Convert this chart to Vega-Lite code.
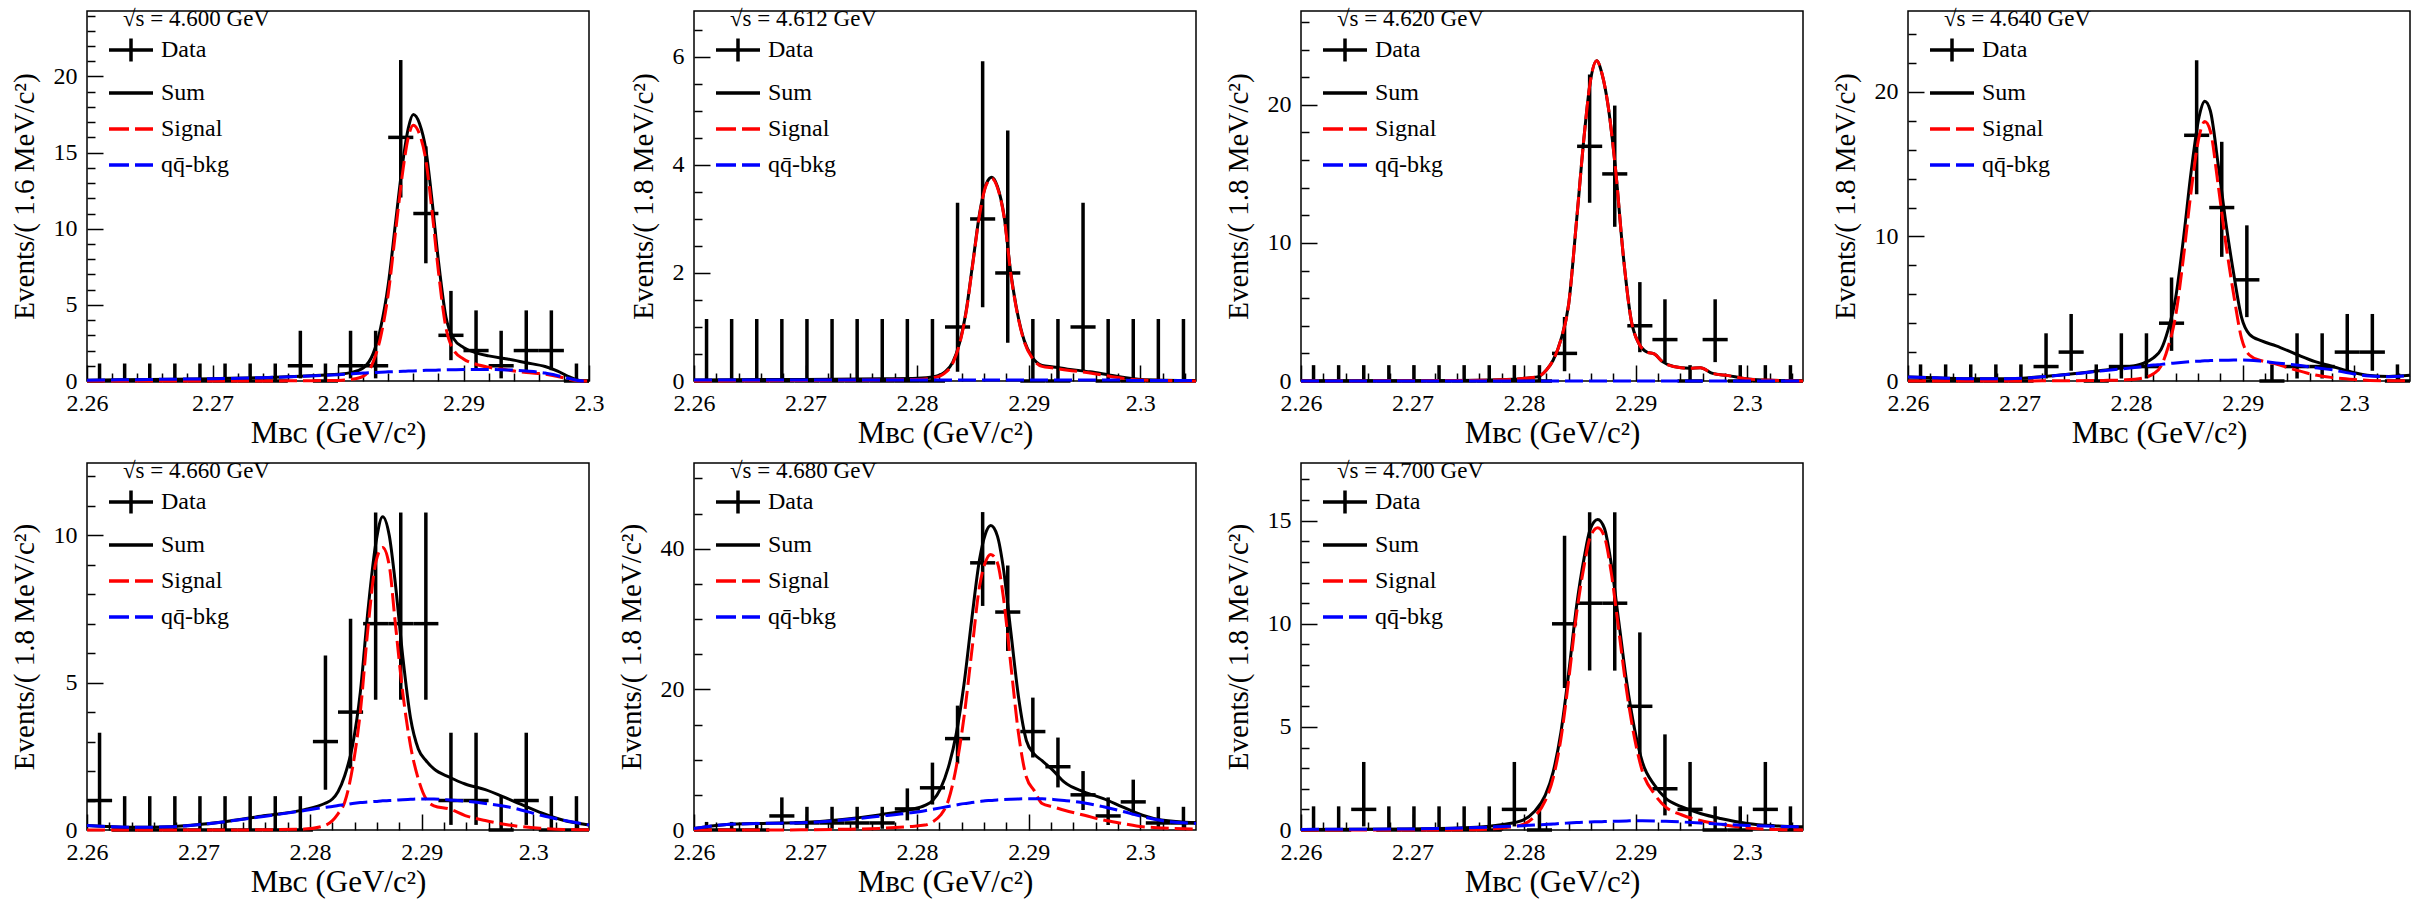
{
  "$schema": "https://vega.github.io/schema/vega-lite/v6.json",
  "background": "white",
  "padding": {"left": 9, "top": 7, "right": 5, "bottom": 5},
  "columns": 4,
  "spacing": {"row": 82, "column": 105},
  "bounds": "flush",
  "resolve": {"scale": {"color": "independent"}, "legend": {"color": "independent"}},
  "datasets": {
    "bins": [
      {"E":"4.600","x":2.261,"xlo":2.260,"xhi":2.262,"n":0,"lo":0,"hi":1.148},
      {"E":"4.600","x":2.263,"xlo":2.262,"xhi":2.264,"n":0,"lo":0,"hi":1.148},
      {"E":"4.600","x":2.265,"xlo":2.264,"xhi":2.266,"n":0,"lo":0,"hi":1.148},
      {"E":"4.600","x":2.267,"xlo":2.266,"xhi":2.268,"n":0,"lo":0,"hi":1.148},
      {"E":"4.600","x":2.269,"xlo":2.268,"xhi":2.270,"n":0,"lo":0,"hi":1.148},
      {"E":"4.600","x":2.271,"xlo":2.270,"xhi":2.272,"n":0,"lo":0,"hi":1.148},
      {"E":"4.600","x":2.273,"xlo":2.272,"xhi":2.274,"n":0,"lo":0,"hi":1.148},
      {"E":"4.600","x":2.275,"xlo":2.274,"xhi":2.276,"n":0,"lo":0,"hi":1.148},
      {"E":"4.600","x":2.277,"xlo":2.276,"xhi":2.278,"n":1,"lo":0.173,"hi":3.3},
      {"E":"4.600","x":2.279,"xlo":2.278,"xhi":2.280,"n":0,"lo":0,"hi":1.148},
      {"E":"4.600","x":2.281,"xlo":2.280,"xhi":2.282,"n":1,"lo":0.173,"hi":3.3},
      {"E":"4.600","x":2.283,"xlo":2.282,"xhi":2.284,"n":1,"lo":0.173,"hi":3.3},
      {"E":"4.600","x":2.285,"xlo":2.284,"xhi":2.286,"n":16,"lo":12.05,"hi":21.08},
      {"E":"4.600","x":2.287,"xlo":2.286,"xhi":2.288,"n":11,"lo":7.73,"hi":15.41},
      {"E":"4.600","x":2.289,"xlo":2.288,"xhi":2.290,"n":3,"lo":1.367,"hi":5.918},
      {"E":"4.600","x":2.291,"xlo":2.290,"xhi":2.292,"n":2,"lo":0.708,"hi":4.638},
      {"E":"4.600","x":2.293,"xlo":2.292,"xhi":2.294,"n":1,"lo":0.173,"hi":3.3},
      {"E":"4.600","x":2.295,"xlo":2.294,"xhi":2.296,"n":2,"lo":0.708,"hi":4.638},
      {"E":"4.600","x":2.297,"xlo":2.296,"xhi":2.298,"n":2,"lo":0.708,"hi":4.638},
      {"E":"4.600","x":2.299,"xlo":2.298,"xhi":2.300,"n":0,"lo":0,"hi":1.148},

      {"E":"4.612","x":2.261125,"xlo":2.26,"xhi":2.26225,"n":0,"lo":0,"hi":1.148},
      {"E":"4.612","x":2.263375,"xlo":2.26225,"xhi":2.2645,"n":0,"lo":0,"hi":1.148},
      {"E":"4.612","x":2.265625,"xlo":2.2645,"xhi":2.26675,"n":0,"lo":0,"hi":1.148},
      {"E":"4.612","x":2.267875,"xlo":2.26675,"xhi":2.269,"n":0,"lo":0,"hi":1.148},
      {"E":"4.612","x":2.270125,"xlo":2.269,"xhi":2.27125,"n":0,"lo":0,"hi":1.148},
      {"E":"4.612","x":2.272375,"xlo":2.27125,"xhi":2.2735,"n":0,"lo":0,"hi":1.148},
      {"E":"4.612","x":2.274625,"xlo":2.2735,"xhi":2.27575,"n":0,"lo":0,"hi":1.148},
      {"E":"4.612","x":2.276875,"xlo":2.27575,"xhi":2.278,"n":0,"lo":0,"hi":1.148},
      {"E":"4.612","x":2.279125,"xlo":2.278,"xhi":2.28025,"n":0,"lo":0,"hi":1.148},
      {"E":"4.612","x":2.281375,"xlo":2.28025,"xhi":2.2825,"n":0,"lo":0,"hi":1.148},
      {"E":"4.612","x":2.283625,"xlo":2.2825,"xhi":2.28475,"n":1,"lo":0.173,"hi":3.3},
      {"E":"4.612","x":2.285875,"xlo":2.28475,"xhi":2.287,"n":3,"lo":1.367,"hi":5.918},
      {"E":"4.612","x":2.288125,"xlo":2.287,"xhi":2.28925,"n":2,"lo":0.708,"hi":4.638},
      {"E":"4.612","x":2.290375,"xlo":2.28925,"xhi":2.2915,"n":0,"lo":0,"hi":1.148},
      {"E":"4.612","x":2.292625,"xlo":2.2915,"xhi":2.29375,"n":0,"lo":0,"hi":1.148},
      {"E":"4.612","x":2.294875,"xlo":2.29375,"xhi":2.296,"n":1,"lo":0.173,"hi":3.3},
      {"E":"4.612","x":2.297125,"xlo":2.296,"xhi":2.29825,"n":0,"lo":0,"hi":1.148},
      {"E":"4.612","x":2.299375,"xlo":2.29825,"xhi":2.3005,"n":0,"lo":0,"hi":1.148},
      {"E":"4.612","x":2.301625,"xlo":2.3005,"xhi":2.30275,"n":0,"lo":0,"hi":1.148},
      {"E":"4.612","x":2.303875,"xlo":2.30275,"xhi":2.305,"n":0,"lo":0,"hi":1.148},

      {"E":"4.620","x":2.261125,"xlo":2.26,"xhi":2.26225,"n":0,"lo":0,"hi":1.148},
      {"E":"4.620","x":2.263375,"xlo":2.26225,"xhi":2.2645,"n":0,"lo":0,"hi":1.148},
      {"E":"4.620","x":2.265625,"xlo":2.2645,"xhi":2.26675,"n":0,"lo":0,"hi":1.148},
      {"E":"4.620","x":2.267875,"xlo":2.26675,"xhi":2.269,"n":0,"lo":0,"hi":1.148},
      {"E":"4.620","x":2.270125,"xlo":2.269,"xhi":2.27125,"n":0,"lo":0,"hi":1.148},
      {"E":"4.620","x":2.272375,"xlo":2.27125,"xhi":2.2735,"n":0,"lo":0,"hi":1.148},
      {"E":"4.620","x":2.274625,"xlo":2.2735,"xhi":2.27575,"n":0,"lo":0,"hi":1.148},
      {"E":"4.620","x":2.276875,"xlo":2.27575,"xhi":2.278,"n":0,"lo":0,"hi":1.148},
      {"E":"4.620","x":2.279125,"xlo":2.278,"xhi":2.28025,"n":0,"lo":0,"hi":1.148},
      {"E":"4.620","x":2.281375,"xlo":2.28025,"xhi":2.2825,"n":0,"lo":0,"hi":1.148},
      {"E":"4.620","x":2.283625,"xlo":2.2825,"xhi":2.28475,"n":2,"lo":0.708,"hi":4.638},
      {"E":"4.620","x":2.285875,"xlo":2.28475,"xhi":2.287,"n":17,"lo":12.92,"hi":22.2},
      {"E":"4.620","x":2.288125,"xlo":2.287,"xhi":2.28925,"n":15,"lo":11.17,"hi":19.95},
      {"E":"4.620","x":2.290375,"xlo":2.28925,"xhi":2.2915,"n":4,"lo":2.086,"hi":7.163},
      {"E":"4.620","x":2.292625,"xlo":2.2915,"xhi":2.29375,"n":3,"lo":1.367,"hi":5.918},
      {"E":"4.620","x":2.294875,"xlo":2.29375,"xhi":2.296,"n":0,"lo":0,"hi":1.148},
      {"E":"4.620","x":2.297125,"xlo":2.296,"xhi":2.29825,"n":3,"lo":1.367,"hi":5.918},
      {"E":"4.620","x":2.299375,"xlo":2.29825,"xhi":2.3005,"n":0,"lo":0,"hi":1.148},
      {"E":"4.620","x":2.301625,"xlo":2.3005,"xhi":2.30275,"n":0,"lo":0,"hi":1.148},
      {"E":"4.620","x":2.303875,"xlo":2.30275,"xhi":2.305,"n":0,"lo":0,"hi":1.148},

      {"E":"4.640","x":2.261125,"xlo":2.26,"xhi":2.26225,"n":0,"lo":0,"hi":1.148},
      {"E":"4.640","x":2.263375,"xlo":2.26225,"xhi":2.2645,"n":0,"lo":0,"hi":1.148},
      {"E":"4.640","x":2.265625,"xlo":2.2645,"xhi":2.26675,"n":0,"lo":0,"hi":1.148},
      {"E":"4.640","x":2.267875,"xlo":2.26675,"xhi":2.269,"n":0,"lo":0,"hi":1.148},
      {"E":"4.640","x":2.270125,"xlo":2.269,"xhi":2.27125,"n":0,"lo":0,"hi":1.148},
      {"E":"4.640","x":2.272375,"xlo":2.27125,"xhi":2.2735,"n":1,"lo":0.173,"hi":3.3},
      {"E":"4.640","x":2.274625,"xlo":2.2735,"xhi":2.27575,"n":2,"lo":0.708,"hi":4.638},
      {"E":"4.640","x":2.276875,"xlo":2.27575,"xhi":2.278,"n":0,"lo":0,"hi":1.148},
      {"E":"4.640","x":2.279125,"xlo":2.278,"xhi":2.28025,"n":1,"lo":0.173,"hi":3.3},
      {"E":"4.640","x":2.281375,"xlo":2.28025,"xhi":2.2825,"n":1,"lo":0.173,"hi":3.3},
      {"E":"4.640","x":2.283625,"xlo":2.2825,"xhi":2.28475,"n":4,"lo":2.086,"hi":7.163},
      {"E":"4.640","x":2.285875,"xlo":2.28475,"xhi":2.287,"n":17,"lo":12.92,"hi":22.2},
      {"E":"4.640","x":2.288125,"xlo":2.287,"xhi":2.28925,"n":12,"lo":8.59,"hi":16.55},
      {"E":"4.640","x":2.290375,"xlo":2.28925,"xhi":2.2915,"n":7,"lo":4.419,"hi":10.77},
      {"E":"4.640","x":2.292625,"xlo":2.2915,"xhi":2.29375,"n":0,"lo":0,"hi":1.148},
      {"E":"4.640","x":2.294875,"xlo":2.29375,"xhi":2.296,"n":1,"lo":0.173,"hi":3.3},
      {"E":"4.640","x":2.297125,"xlo":2.296,"xhi":2.29825,"n":1,"lo":0.173,"hi":3.3},
      {"E":"4.640","x":2.299375,"xlo":2.29825,"xhi":2.3005,"n":2,"lo":0.708,"hi":4.638},
      {"E":"4.640","x":2.301625,"xlo":2.3005,"xhi":2.30275,"n":2,"lo":0.708,"hi":4.638},
      {"E":"4.640","x":2.303875,"xlo":2.30275,"xhi":2.305,"n":0,"lo":0,"hi":1.148},

      {"E":"4.660","x":2.261125,"xlo":2.26,"xhi":2.26225,"n":1,"lo":0.173,"hi":3.3},
      {"E":"4.660","x":2.263375,"xlo":2.26225,"xhi":2.2645,"n":0,"lo":0,"hi":1.148},
      {"E":"4.660","x":2.265625,"xlo":2.2645,"xhi":2.26675,"n":0,"lo":0,"hi":1.148},
      {"E":"4.660","x":2.267875,"xlo":2.26675,"xhi":2.269,"n":0,"lo":0,"hi":1.148},
      {"E":"4.660","x":2.270125,"xlo":2.269,"xhi":2.27125,"n":0,"lo":0,"hi":1.148},
      {"E":"4.660","x":2.272375,"xlo":2.27125,"xhi":2.2735,"n":0,"lo":0,"hi":1.148},
      {"E":"4.660","x":2.274625,"xlo":2.2735,"xhi":2.27575,"n":0,"lo":0,"hi":1.148},
      {"E":"4.660","x":2.276875,"xlo":2.27575,"xhi":2.278,"n":0,"lo":0,"hi":1.148},
      {"E":"4.660","x":2.279125,"xlo":2.278,"xhi":2.28025,"n":0,"lo":0,"hi":1.148},
      {"E":"4.660","x":2.281375,"xlo":2.28025,"xhi":2.2825,"n":3,"lo":1.367,"hi":5.918},
      {"E":"4.660","x":2.283625,"xlo":2.2825,"xhi":2.28475,"n":4,"lo":2.086,"hi":7.163},
      {"E":"4.660","x":2.285875,"xlo":2.28475,"xhi":2.287,"n":7,"lo":4.419,"hi":10.77},
      {"E":"4.660","x":2.288125,"xlo":2.287,"xhi":2.28925,"n":7,"lo":4.419,"hi":10.77},
      {"E":"4.660","x":2.290375,"xlo":2.28925,"xhi":2.2915,"n":7,"lo":4.419,"hi":10.77},
      {"E":"4.660","x":2.292625,"xlo":2.2915,"xhi":2.29375,"n":1,"lo":0.173,"hi":3.3},
      {"E":"4.660","x":2.294875,"xlo":2.29375,"xhi":2.296,"n":1,"lo":0.173,"hi":3.3},
      {"E":"4.660","x":2.297125,"xlo":2.296,"xhi":2.29825,"n":0,"lo":0,"hi":1.148},
      {"E":"4.660","x":2.299375,"xlo":2.29825,"xhi":2.3005,"n":1,"lo":0.173,"hi":3.3},
      {"E":"4.660","x":2.301625,"xlo":2.3005,"xhi":2.30275,"n":0,"lo":0,"hi":1.148},
      {"E":"4.660","x":2.303875,"xlo":2.30275,"xhi":2.305,"n":0,"lo":0,"hi":1.148},

      {"E":"4.680","x":2.261125,"xlo":2.26,"xhi":2.26225,"n":0,"lo":0,"hi":1.148},
      {"E":"4.680","x":2.263375,"xlo":2.26225,"xhi":2.2645,"n":0,"lo":0,"hi":1.148},
      {"E":"4.680","x":2.265625,"xlo":2.2645,"xhi":2.26675,"n":0,"lo":0,"hi":1.148},
      {"E":"4.680","x":2.267875,"xlo":2.26675,"xhi":2.269,"n":2,"lo":0.708,"hi":4.638},
      {"E":"4.680","x":2.270125,"xlo":2.269,"xhi":2.27125,"n":1,"lo":0.173,"hi":3.3},
      {"E":"4.680","x":2.272375,"xlo":2.27125,"xhi":2.2735,"n":1,"lo":0.173,"hi":3.3},
      {"E":"4.680","x":2.274625,"xlo":2.2735,"xhi":2.27575,"n":1,"lo":0.173,"hi":3.3},
      {"E":"4.680","x":2.276875,"xlo":2.27575,"xhi":2.278,"n":1,"lo":0.173,"hi":3.3},
      {"E":"4.680","x":2.279125,"xlo":2.278,"xhi":2.28025,"n":3,"lo":1.367,"hi":5.918},
      {"E":"4.680","x":2.281375,"xlo":2.28025,"xhi":2.2825,"n":6,"lo":3.62,"hi":9.584},
      {"E":"4.680","x":2.283625,"xlo":2.2825,"xhi":2.28475,"n":13,"lo":9.45,"hi":17.69},
      {"E":"4.680","x":2.285875,"xlo":2.28475,"xhi":2.287,"n":38,"lo":31.87,"hi":45.22},
      {"E":"4.680","x":2.288125,"xlo":2.287,"xhi":2.28925,"n":31,"lo":25.47,"hi":37.62},
      {"E":"4.680","x":2.290375,"xlo":2.28925,"xhi":2.2915,"n":14,"lo":10.31,"hi":18.83},
      {"E":"4.680","x":2.292625,"xlo":2.2915,"xhi":2.29375,"n":9,"lo":6.057,"hi":13.15},
      {"E":"4.680","x":2.294875,"xlo":2.29375,"xhi":2.296,"n":5,"lo":2.84,"hi":8.382},
      {"E":"4.680","x":2.297125,"xlo":2.296,"xhi":2.29825,"n":2,"lo":0.708,"hi":4.638},
      {"E":"4.680","x":2.299375,"xlo":2.29825,"xhi":2.3005,"n":4,"lo":2.086,"hi":7.163},
      {"E":"4.680","x":2.301625,"xlo":2.3005,"xhi":2.30275,"n":1,"lo":0.173,"hi":3.3},
      {"E":"4.680","x":2.303875,"xlo":2.30275,"xhi":2.305,"n":1,"lo":0.173,"hi":3.3},

      {"E":"4.700","x":2.261125,"xlo":2.26,"xhi":2.26225,"n":0,"lo":0,"hi":1.148},
      {"E":"4.700","x":2.263375,"xlo":2.26225,"xhi":2.2645,"n":0,"lo":0,"hi":1.148},
      {"E":"4.700","x":2.265625,"xlo":2.2645,"xhi":2.26675,"n":1,"lo":0.173,"hi":3.3},
      {"E":"4.700","x":2.267875,"xlo":2.26675,"xhi":2.269,"n":0,"lo":0,"hi":1.148},
      {"E":"4.700","x":2.270125,"xlo":2.269,"xhi":2.27125,"n":0,"lo":0,"hi":1.148},
      {"E":"4.700","x":2.272375,"xlo":2.27125,"xhi":2.2735,"n":0,"lo":0,"hi":1.148},
      {"E":"4.700","x":2.274625,"xlo":2.2735,"xhi":2.27575,"n":0,"lo":0,"hi":1.148},
      {"E":"4.700","x":2.276875,"xlo":2.27575,"xhi":2.278,"n":0,"lo":0,"hi":1.148},
      {"E":"4.700","x":2.279125,"xlo":2.278,"xhi":2.28025,"n":1,"lo":0.173,"hi":3.3},
      {"E":"4.700","x":2.281375,"xlo":2.28025,"xhi":2.2825,"n":0,"lo":0,"hi":1.148},
      {"E":"4.700","x":2.283625,"xlo":2.2825,"xhi":2.28475,"n":10,"lo":6.891,"hi":14.27},
      {"E":"4.700","x":2.285875,"xlo":2.28475,"xhi":2.287,"n":11,"lo":7.73,"hi":15.41},
      {"E":"4.700","x":2.288125,"xlo":2.287,"xhi":2.28925,"n":11,"lo":7.73,"hi":15.41},
      {"E":"4.700","x":2.290375,"xlo":2.28925,"xhi":2.2915,"n":6,"lo":3.62,"hi":9.584},
      {"E":"4.700","x":2.292625,"xlo":2.2915,"xhi":2.29375,"n":2,"lo":0.708,"hi":4.638},
      {"E":"4.700","x":2.294875,"xlo":2.29375,"xhi":2.296,"n":1,"lo":0.173,"hi":3.3},
      {"E":"4.700","x":2.297125,"xlo":2.296,"xhi":2.29825,"n":0,"lo":0,"hi":1.148},
      {"E":"4.700","x":2.299375,"xlo":2.29825,"xhi":2.3005,"n":0,"lo":0,"hi":1.148},
      {"E":"4.700","x":2.301625,"xlo":2.3005,"xhi":2.30275,"n":1,"lo":0.173,"hi":3.3},
      {"E":"4.700","x":2.303875,"xlo":2.30275,"xhi":2.305,"n":0,"lo":0,"hi":1.148}
    ],
    "fit": [
      {"E":"4.600","x":2.2600,"sum":0.05,"sig":0,"bkg":0.05},
      {"E":"4.600","x":2.2650,"sum":0.1,"sig":0,"bkg":0.1},
      {"E":"4.600","x":2.2700,"sum":0.15,"sig":0,"bkg":0.15},
      {"E":"4.600","x":2.2740,"sum":0.22,"sig":0,"bkg":0.22},
      {"E":"4.600","x":2.2770,"sum":0.32,"sig":0.02,"bkg":0.3},
      {"E":"4.600","x":2.2790,"sum":0.4,"sig":0.03,"bkg":0.37},
      {"E":"4.600","x":2.2800,"sum":0.45,"sig":0.04,"bkg":0.41},
      {"E":"4.600","x":2.2810,"sum":0.55,"sig":0.1,"bkg":0.46},
      {"E":"4.600","x":2.2820,"sum":0.85,"sig":0.3,"bkg":0.52},
      {"E":"4.600","x":2.2828,"sum":1.8,"sig":1.25,"bkg":0.55},
      {"E":"4.600","x":2.2834,"sum":3.5,"sig":2.9,"bkg":0.58},
      {"E":"4.600","x":2.2840,"sum":6.3,"sig":5.7,"bkg":0.6},
      {"E":"4.600","x":2.2846,"sum":10.5,"sig":9.9,"bkg":0.62},
      {"E":"4.600","x":2.2852,"sum":14.6,"sig":14.0,"bkg":0.64},
      {"E":"4.600","x":2.2856,"sum":16.6,"sig":16.0,"bkg":0.65},
      {"E":"4.600","x":2.2860,"sum":17.5,"sig":16.8,"bkg":0.66},
      {"E":"4.600","x":2.2865,"sum":16.9,"sig":16.2,"bkg":0.68},
      {"E":"4.600","x":2.2870,"sum":15.2,"sig":14.5,"bkg":0.7},
      {"E":"4.600","x":2.2875,"sum":11.8,"sig":11.1,"bkg":0.7},
      {"E":"4.600","x":2.2880,"sum":7.9,"sig":7.2,"bkg":0.72},
      {"E":"4.600","x":2.2886,"sum":4.2,"sig":3.5,"bkg":0.73},
      {"E":"4.600","x":2.2892,"sum":2.8,"sig":2.05,"bkg":0.74},
      {"E":"4.600","x":2.2900,"sum":2.2,"sig":1.45,"bkg":0.75},
      {"E":"4.600","x":2.2910,"sum":1.85,"sig":1.1,"bkg":0.75},
      {"E":"4.600","x":2.2920,"sum":1.65,"sig":0.9,"bkg":0.75},
      {"E":"4.600","x":2.2935,"sum":1.45,"sig":0.73,"bkg":0.73},
      {"E":"4.600","x":2.2950,"sum":1.2,"sig":0.55,"bkg":0.65},
      {"E":"4.600","x":2.2965,"sum":0.95,"sig":0.45,"bkg":0.52},
      {"E":"4.600","x":2.2975,"sum":0.65,"sig":0.3,"bkg":0.35},
      {"E":"4.600","x":2.2985,"sum":0.25,"sig":0.1,"bkg":0.15},
      {"E":"4.600","x":2.2995,"sum":0,"sig":0,"bkg":0},
      {"E":"4.600","x":2.3000,"sum":0,"sig":0,"bkg":0},

      {"E":"4.612","x":2.2600,"sum":0.02,"sig":0,"bkg":0.02},
      {"E":"4.612","x":2.2700,"sum":0.03,"sig":0.01,"bkg":0.02},
      {"E":"4.612","x":2.2770,"sum":0.04,"sig":0.02,"bkg":0.02},
      {"E":"4.612","x":2.2800,"sum":0.05,"sig":0.03,"bkg":0.02},
      {"E":"4.612","x":2.2815,"sum":0.08,"sig":0.06,"bkg":0.02},
      {"E":"4.612","x":2.2825,"sum":0.17,"sig":0.15,"bkg":0.02},
      {"E":"4.612","x":2.2832,"sum":0.35,"sig":0.33,"bkg":0.02},
      {"E":"4.612","x":2.2838,"sum":0.7,"sig":0.68,"bkg":0.02},
      {"E":"4.612","x":2.2844,"sum":1.3,"sig":1.28,"bkg":0.02},
      {"E":"4.612","x":2.2850,"sum":2.2,"sig":2.18,"bkg":0.02},
      {"E":"4.612","x":2.2856,"sum":3.1,"sig":3.08,"bkg":0.02},
      {"E":"4.612","x":2.2862,"sum":3.65,"sig":3.63,"bkg":0.02},
      {"E":"4.612","x":2.2867,"sum":3.77,"sig":3.75,"bkg":0.02},
      {"E":"4.612","x":2.2872,"sum":3.6,"sig":3.58,"bkg":0.02},
      {"E":"4.612","x":2.2878,"sum":3.05,"sig":3.03,"bkg":0.02},
      {"E":"4.612","x":2.2884,"sum":2.0,"sig":1.98,"bkg":0.02},
      {"E":"4.612","x":2.2890,"sum":1.25,"sig":1.23,"bkg":0.02},
      {"E":"4.612","x":2.2896,"sum":0.75,"sig":0.73,"bkg":0.02},
      {"E":"4.612","x":2.2903,"sum":0.45,"sig":0.43,"bkg":0.02},
      {"E":"4.612","x":2.2912,"sum":0.29,"sig":0.27,"bkg":0.02},
      {"E":"4.612","x":2.2922,"sum":0.26,"sig":0.24,"bkg":0.02},
      {"E":"4.612","x":2.2935,"sum":0.22,"sig":0.2,"bkg":0.02},
      {"E":"4.612","x":2.2955,"sum":0.17,"sig":0.15,"bkg":0.02},
      {"E":"4.612","x":2.2975,"sum":0.1,"sig":0.08,"bkg":0.02},
      {"E":"4.612","x":2.3000,"sum":0.03,"sig":0.02,"bkg":0.01},
      {"E":"4.612","x":2.3050,"sum":0.01,"sig":0,"bkg":0.01},

      {"E":"4.620","x":2.2600,"sum":0,"sig":0,"bkg":0},
      {"E":"4.620","x":2.2700,"sum":0.02,"sig":0.02,"bkg":0},
      {"E":"4.620","x":2.2760,"sum":0.05,"sig":0.05,"bkg":0},
      {"E":"4.620","x":2.2790,"sum":0.12,"sig":0.12,"bkg":0},
      {"E":"4.620","x":2.2800,"sum":0.2,"sig":0.2,"bkg":0},
      {"E":"4.620","x":2.2812,"sum":0.3,"sig":0.3,"bkg":0},
      {"E":"4.620","x":2.2820,"sum":0.8,"sig":0.8,"bkg":0},
      {"E":"4.620","x":2.2826,"sum":1.5,"sig":1.5,"bkg":0},
      {"E":"4.620","x":2.2833,"sum":3.0,"sig":3.0,"bkg":0},
      {"E":"4.620","x":2.2840,"sum":5.6,"sig":5.6,"bkg":0},
      {"E":"4.620","x":2.2847,"sum":11.6,"sig":11.6,"bkg":0},
      {"E":"4.620","x":2.2854,"sum":17.9,"sig":17.9,"bkg":0},
      {"E":"4.620","x":2.2859,"sum":21.5,"sig":21.5,"bkg":0},
      {"E":"4.620","x":2.2865,"sum":23.2,"sig":23.2,"bkg":0},
      {"E":"4.620","x":2.2870,"sum":22.2,"sig":22.2,"bkg":0},
      {"E":"4.620","x":2.2875,"sum":20.1,"sig":20.1,"bkg":0},
      {"E":"4.620","x":2.2882,"sum":15.3,"sig":15.3,"bkg":0},
      {"E":"4.620","x":2.2889,"sum":9.0,"sig":9.0,"bkg":0},
      {"E":"4.620","x":2.2896,"sum":4.4,"sig":4.4,"bkg":0},
      {"E":"4.620","x":2.2903,"sum":2.7,"sig":2.7,"bkg":0},
      {"E":"4.620","x":2.2910,"sum":2.1,"sig":2.1,"bkg":0},
      {"E":"4.620","x":2.2917,"sum":1.95,"sig":1.95,"bkg":0},
      {"E":"4.620","x":2.2924,"sum":1.4,"sig":1.4,"bkg":0},
      {"E":"4.620","x":2.2934,"sum":1.05,"sig":1.05,"bkg":0},
      {"E":"4.620","x":2.2948,"sum":0.92,"sig":0.92,"bkg":0},
      {"E":"4.620","x":2.2958,"sum":0.96,"sig":0.96,"bkg":0},
      {"E":"4.620","x":2.2969,"sum":0.55,"sig":0.55,"bkg":0},
      {"E":"4.620","x":2.2983,"sum":0.39,"sig":0.39,"bkg":0},
      {"E":"4.620","x":2.2997,"sum":0.19,"sig":0.19,"bkg":0},
      {"E":"4.620","x":2.3014,"sum":0.07,"sig":0.07,"bkg":0},
      {"E":"4.620","x":2.3050,"sum":0,"sig":0,"bkg":0},

      {"E":"4.640","x":2.2600,"sum":0.28,"sig":0,"bkg":0.28},
      {"E":"4.640","x":2.2625,"sum":0.22,"sig":0,"bkg":0.22},
      {"E":"4.640","x":2.2660,"sum":0.15,"sig":0,"bkg":0.15},
      {"E":"4.640","x":2.2690,"sum":0.15,"sig":0,"bkg":0.15},
      {"E":"4.640","x":2.2720,"sum":0.3,"sig":0.01,"bkg":0.29},
      {"E":"4.640","x":2.2750,"sum":0.52,"sig":0.02,"bkg":0.5},
      {"E":"4.640","x":2.2775,"sum":0.75,"sig":0.04,"bkg":0.71},
      {"E":"4.640","x":2.2795,"sum":0.95,"sig":0.08,"bkg":0.87},
      {"E":"4.640","x":2.2810,"sum":1.2,"sig":0.2,"bkg":1.0},
      {"E":"4.640","x":2.2820,"sum":1.6,"sig":0.5,"bkg":1.1},
      {"E":"4.640","x":2.2827,"sum":2.2,"sig":1.05,"bkg":1.15},
      {"E":"4.640","x":2.2833,"sum":3.5,"sig":2.3,"bkg":1.2},
      {"E":"4.640","x":2.2840,"sum":5.8,"sig":4.55,"bkg":1.25},
      {"E":"4.640","x":2.2847,"sum":9.9,"sig":8.6,"bkg":1.3},
      {"E":"4.640","x":2.2854,"sum":14.6,"sig":13.25,"bkg":1.35},
      {"E":"4.640","x":2.2861,"sum":18.3,"sig":16.93,"bkg":1.37},
      {"E":"4.640","x":2.2866,"sum":19.35,"sig":17.95,"bkg":1.4},
      {"E":"4.640","x":2.2871,"sum":18.7,"sig":17.3,"bkg":1.41},
      {"E":"4.640","x":2.2878,"sum":15.0,"sig":13.57,"bkg":1.43},
      {"E":"4.640","x":2.2885,"sum":10.9,"sig":9.46,"bkg":1.44},
      {"E":"4.640","x":2.2892,"sum":7.4,"sig":5.95,"bkg":1.45},
      {"E":"4.640","x":2.2899,"sum":4.4,"sig":2.95,"bkg":1.45},
      {"E":"4.640","x":2.2906,"sum":3.24,"sig":1.8,"bkg":1.44},
      {"E":"4.640","x":2.2917,"sum":2.77,"sig":1.4,"bkg":1.37},
      {"E":"4.640","x":2.2930,"sum":2.43,"sig":1.18,"bkg":1.25},
      {"E":"4.640","x":2.2948,"sum":1.85,"sig":0.75,"bkg":1.1},
      {"E":"4.640","x":2.2965,"sum":1.34,"sig":0.42,"bkg":0.92},
      {"E":"4.640","x":2.2979,"sum":1.04,"sig":0.25,"bkg":0.79},
      {"E":"4.640","x":2.3000,"sum":0.58,"sig":0.1,"bkg":0.48},
      {"E":"4.640","x":2.3014,"sum":0.38,"sig":0.04,"bkg":0.34},
      {"E":"4.640","x":2.3031,"sum":0.32,"sig":0.02,"bkg":0.3},
      {"E":"4.640","x":2.3050,"sum":0.4,"sig":0.01,"bkg":0.39},

      {"E":"4.660","x":2.2600,"sum":0.15,"sig":0,"bkg":0.15},
      {"E":"4.660","x":2.2640,"sum":0.09,"sig":0,"bkg":0.09},
      {"E":"4.660","x":2.2675,"sum":0.11,"sig":0,"bkg":0.11},
      {"E":"4.660","x":2.2705,"sum":0.2,"sig":0,"bkg":0.2},
      {"E":"4.660","x":2.2730,"sum":0.32,"sig":0,"bkg":0.31},
      {"E":"4.660","x":2.2760,"sum":0.49,"sig":0.01,"bkg":0.47},
      {"E":"4.660","x":2.2795,"sum":0.69,"sig":0.03,"bkg":0.66},
      {"E":"4.660","x":2.2813,"sum":0.9,"sig":0.15,"bkg":0.77},
      {"E":"4.660","x":2.2820,"sum":1.05,"sig":0.32,"bkg":0.8},
      {"E":"4.660","x":2.2825,"sum":1.3,"sig":0.55,"bkg":0.83},
      {"E":"4.660","x":2.2831,"sum":1.84,"sig":0.94,"bkg":0.86},
      {"E":"4.660","x":2.2838,"sum":2.86,"sig":2.1,"bkg":0.9},
      {"E":"4.660","x":2.2845,"sum":4.67,"sig":4.0,"bkg":0.93},
      {"E":"4.660","x":2.2852,"sum":7.5,"sig":6.9,"bkg":0.95},
      {"E":"4.660","x":2.2859,"sum":9.75,"sig":9.1,"bkg":0.97},
      {"E":"4.660","x":2.2865,"sum":10.63,"sig":9.58,"bkg":0.99},
      {"E":"4.660","x":2.2871,"sum":9.98,"sig":8.96,"bkg":1.0},
      {"E":"4.660","x":2.2876,"sum":8.5,"sig":7.15,"bkg":1.01},
      {"E":"4.660","x":2.2883,"sum":5.9,"sig":4.67,"bkg":1.03},
      {"E":"4.660","x":2.2890,"sum":3.8,"sig":2.86,"bkg":1.04},
      {"E":"4.660","x":2.2897,"sum":2.75,"sig":1.73,"bkg":1.05},
      {"E":"4.660","x":2.2904,"sum":2.35,"sig":1.05,"bkg":1.05},
      {"E":"4.660","x":2.2911,"sum":2.07,"sig":0.82,"bkg":1.05},
      {"E":"4.660","x":2.2925,"sum":1.79,"sig":0.71,"bkg":1.02},
      {"E":"4.660","x":2.2939,"sum":1.56,"sig":0.49,"bkg":0.98},
      {"E":"4.660","x":2.2957,"sum":1.37,"sig":0.32,"bkg":0.9},
      {"E":"4.660","x":2.2978,"sum":1.05,"sig":0.17,"bkg":0.78},
      {"E":"4.660","x":2.3006,"sum":0.6,"sig":0.06,"bkg":0.51},
      {"E":"4.660","x":2.3027,"sum":0.33,"sig":0.02,"bkg":0.33},
      {"E":"4.660","x":2.3050,"sum":0.17,"sig":0.01,"bkg":0.17},

      {"E":"4.680","x":2.2600,"sum":0.2,"sig":0,"bkg":0.2},
      {"E":"4.680","x":2.2627,"sum":0.75,"sig":0,"bkg":0.75},
      {"E":"4.680","x":2.2662,"sum":0.94,"sig":0,"bkg":0.94},
      {"E":"4.680","x":2.2696,"sum":1.05,"sig":0.03,"bkg":1.02},
      {"E":"4.680","x":2.2731,"sum":1.45,"sig":0.1,"bkg":1.38},
      {"E":"4.680","x":2.2766,"sum":2.15,"sig":0.23,"bkg":1.95},
      {"E":"4.680","x":2.2794,"sum":2.9,"sig":0.5,"bkg":2.45},
      {"E":"4.680","x":2.2807,"sum":3.5,"sig":0.7,"bkg":2.75},
      {"E":"4.680","x":2.2814,"sum":4.2,"sig":1.17,"bkg":2.95},
      {"E":"4.680","x":2.2821,"sum":5.9,"sig":2.1,"bkg":3.15},
      {"E":"4.680","x":2.2828,"sum":8.9,"sig":4.2,"bkg":3.35},
      {"E":"4.680","x":2.2835,"sum":13.6,"sig":8.9,"bkg":3.55},
      {"E":"4.680","x":2.2842,"sum":20.7,"sig":16.0,"bkg":3.75},
      {"E":"4.680","x":2.2849,"sum":30.0,"sig":25.4,"bkg":3.9},
      {"E":"4.680","x":2.2856,"sum":38.5,"sig":34.7,"bkg":4.05},
      {"E":"4.680","x":2.2861,"sum":42.0,"sig":38.0,"bkg":4.15},
      {"E":"4.680","x":2.2866,"sum":43.3,"sig":39.2,"bkg":4.2},
      {"E":"4.680","x":2.2872,"sum":41.8,"sig":38.0,"bkg":4.28},
      {"E":"4.680","x":2.2877,"sum":37.6,"sig":33.5,"bkg":4.33},
      {"E":"4.680","x":2.2884,"sum":28.2,"sig":23.5,"bkg":4.38},
      {"E":"4.680","x":2.2891,"sum":18.8,"sig":13.6,"bkg":4.42},
      {"E":"4.680","x":2.2898,"sum":12.7,"sig":7.5,"bkg":4.45},
      {"E":"4.680","x":2.2905,"sum":10.8,"sig":5.6,"bkg":4.46},
      {"E":"4.680","x":2.2912,"sum":9.86,"sig":3.76,"bkg":4.45},
      {"E":"4.680","x":2.2922,"sum":8.45,"sig":3.29,"bkg":4.35},
      {"E":"4.680","x":2.2932,"sum":6.8,"sig":2.8,"bkg":4.2},
      {"E":"4.680","x":2.2950,"sum":5.4,"sig":2.1,"bkg":3.85},
      {"E":"4.680","x":2.2967,"sum":4.46,"sig":1.41,"bkg":3.3},
      {"E":"4.680","x":2.2984,"sum":3.29,"sig":0.94,"bkg":2.65},
      {"E":"4.680","x":2.3002,"sum":2.1,"sig":0.47,"bkg":1.9},
      {"E":"4.680","x":2.3019,"sum":1.41,"sig":0.3,"bkg":1.35},
      {"E":"4.680","x":2.3050,"sum":1.03,"sig":0.15,"bkg":0.94},

      {"E":"4.700","x":2.2600,"sum":0.03,"sig":0,"bkg":0.03},
      {"E":"4.700","x":2.2694,"sum":0.05,"sig":0,"bkg":0.05},
      {"E":"4.700","x":2.2747,"sum":0.11,"sig":0.01,"bkg":0.1},
      {"E":"4.700","x":2.2781,"sum":0.27,"sig":0.1,"bkg":0.17},
      {"E":"4.700","x":2.2799,"sum":0.48,"sig":0.27,"bkg":0.21},
      {"E":"4.700","x":2.2809,"sum":0.88,"sig":0.64,"bkg":0.24},
      {"E":"4.700","x":2.2819,"sum":1.69,"sig":1.42,"bkg":0.27},
      {"E":"4.700","x":2.2826,"sum":2.81,"sig":2.52,"bkg":0.29},
      {"E":"4.700","x":2.2833,"sum":4.74,"sig":4.42,"bkg":0.32},
      {"E":"4.700","x":2.2840,"sum":7.64,"sig":7.3,"bkg":0.34},
      {"E":"4.700","x":2.2847,"sum":10.85,"sig":10.49,"bkg":0.36},
      {"E":"4.700","x":2.2854,"sum":13.26,"sig":12.88,"bkg":0.38},
      {"E":"4.700","x":2.2859,"sum":14.55,"sig":14.16,"bkg":0.39},
      {"E":"4.700","x":2.2866,"sum":15.06,"sig":14.66,"bkg":0.4},
      {"E":"4.700","x":2.2872,"sum":14.63,"sig":14.22,"bkg":0.41},
      {"E":"4.700","x":2.2878,"sum":12.94,"sig":12.52,"bkg":0.42},
      {"E":"4.700","x":2.2885,"sum":10.05,"sig":9.62,"bkg":0.43},
      {"E":"4.700","x":2.2892,"sum":7.15,"sig":6.71,"bkg":0.44},
      {"E":"4.700","x":2.2899,"sum":4.9,"sig":4.45,"bkg":0.45},
      {"E":"4.700","x":2.2906,"sum":3.3,"sig":2.85,"bkg":0.45},
      {"E":"4.700","x":2.2917,"sum":2.17,"sig":1.73,"bkg":0.44},
      {"E":"4.700","x":2.2927,"sum":1.53,"sig":1.11,"bkg":0.42},
      {"E":"4.700","x":2.2941,"sum":1.13,"sig":0.74,"bkg":0.39},
      {"E":"4.700","x":2.2958,"sum":0.8,"sig":0.46,"bkg":0.34},
      {"E":"4.700","x":2.2976,"sum":0.56,"sig":0.28,"bkg":0.28},
      {"E":"4.700","x":2.3000,"sum":0.32,"sig":0.1,"bkg":0.22},
      {"E":"4.700","x":2.3024,"sum":0.21,"sig":0.03,"bkg":0.18},
      {"E":"4.700","x":2.3050,"sum":0.16,"sig":0,"bkg":0.16}
    ]
  },
  "concat": [
    {
      "width": 502, "height": 370,
      "resolve": {"axis": {"x": "independent", "y": "independent"}},
      "layer": [
        {"data": {"name": "bins"}, "transform": [{"filter": "datum.E === '4.600'"}],
         "mark": {"type": "rule", "color": "#000000", "strokeWidth": 3.5},
         "encoding": {
           "x": {"field": "x", "type": "quantitative", "scale": {"domain": [2.26, 2.30], "nice": false, "zero": false},
                 "axis": {"orient": "bottom", "title": "Mʙᴄ  (GeV/c²)", "values": [2.26, 2.27, 2.28, 2.29, 2.3], "format": ".3~f", "tickSize": -16}},
           "y": {"field": "lo", "type": "quantitative", "scale": {"domain": [0, 24.3], "nice": false},
                 "axis": {"orient": "left", "title": "Events/( 1.6 MeV/c²)", "values": [0, 5, 10, 15, 20], "format": "d", "tickSize": -16}},
           "y2": {"field": "hi"}
         }},
        {"data": {"name": "bins"}, "transform": [{"filter": "datum.E === '4.600'"}],
         "mark": {"type": "rule", "color": "#000000", "strokeWidth": 3.5},
         "encoding": {
           "x": {"field": "xlo", "type": "quantitative",
                 "axis": {"orient": "bottom", "title": null, "labels": false, "tickSize": -8, "values": [2.262,2.264,2.266,2.268,2.272,2.274,2.276,2.278,2.282,2.284,2.286,2.288,2.292,2.294,2.296,2.298]}},
           "x2": {"field": "xhi"},
           "y": {"field": "n", "type": "quantitative",
                 "axis": {"orient": "left", "title": null, "labels": false, "tickSize": -8, "values": [1,2,3,4,6,7,8,9,11,12,13,14,16,17,18,19,21,22,23,24]}}
         }},
        {"data": {"name": "fit"}, "transform": [{"filter": "datum.E === '4.600'"}],
         "mark": {"type": "line", "strokeWidth": 3, "interpolate": "monotone"},
         "encoding": {"x": {"field": "x", "type": "quantitative", "axis": null},
                      "y": {"field": "sum", "type": "quantitative", "axis": null},
                      "color": {"datum": "Sum", "type": "nominal", "scale": {"domain": ["Data", "Sum", "Signal", "qq̄-bkg"], "range": ["#000000", "#000000", "#ff0000", "#0000ff"]},
                                "legend": {"title": "√s = 4.600 GeV", "encode": {"title": {"update": {"dx": {"value": 16}}}, "symbols": {"update": {"shape": {"signal": "datum.value === 'Data' ? 'M-1,0H1M0,-0.52V0.52' : 'stroke'"}, "strokeDash": {"signal": "datum.value !== 'Data' && datum.value !== 'Sum' ? [20, 6] : [1, 0]"}}}}}}}},
        {"data": {"name": "fit"}, "transform": [{"filter": "datum.E === '4.600'"}],
         "mark": {"type": "line", "strokeWidth": 3, "strokeDash": [18, 6], "interpolate": "monotone"},
         "encoding": {"x": {"field": "x", "type": "quantitative", "axis": null},
                      "y": {"field": "sig", "type": "quantitative", "axis": null},
                      "color": {"datum": "Signal", "type": "nominal"}}},
        {"data": {"name": "fit"}, "transform": [{"filter": "datum.E === '4.600'"}],
         "mark": {"type": "line", "strokeWidth": 3, "strokeDash": [18, 6], "interpolate": "monotone"},
         "encoding": {"x": {"field": "x", "type": "quantitative", "axis": null},
                      "y": {"field": "bkg", "type": "quantitative", "axis": null},
                      "color": {"datum": "qq̄-bkg", "type": "nominal"}}}
      ]
    },
    {
      "width": 502, "height": 370,
      "resolve": {"axis": {"x": "independent", "y": "independent"}},
      "layer": [
        {"data": {"name": "bins"}, "transform": [{"filter": "datum.E === '4.612'"}],
         "mark": {"type": "rule", "color": "#000000", "strokeWidth": 3.5},
         "encoding": {
           "x": {"field": "x", "type": "quantitative", "scale": {"domain": [2.26, 2.305], "nice": false, "zero": false},
                 "axis": {"orient": "bottom", "title": "Mʙᴄ  (GeV/c²)", "values": [2.26, 2.27, 2.28, 2.29, 2.3], "format": ".3~f", "tickSize": -16}},
           "y": {"field": "lo", "type": "quantitative", "scale": {"domain": [0, 6.85], "nice": false},
                 "axis": {"orient": "left", "title": "Events/( 1.8 MeV/c²)", "values": [0, 2, 4, 6], "format": "d", "tickSize": -16}},
           "y2": {"field": "hi"}
         }},
        {"data": {"name": "bins"}, "transform": [{"filter": "datum.E === '4.612'"}],
         "mark": {"type": "rule", "color": "#000000", "strokeWidth": 3.5},
         "encoding": {
           "x": {"field": "xlo", "type": "quantitative",
                 "axis": {"orient": "bottom", "title": null, "labels": false, "tickSize": -8, "values": [2.262,2.264,2.266,2.268,2.272,2.274,2.276,2.278,2.282,2.284,2.286,2.288,2.292,2.294,2.296,2.298,2.302,2.304]}},
           "x2": {"field": "xhi"},
           "y": {"field": "n", "type": "quantitative",
                 "axis": {"orient": "left", "title": null, "labels": false, "tickSize": -8, "values": [0.5,1,1.5,2.5,3,3.5,4.5,5,5.5,6.5]}}
         }},
        {"data": {"name": "fit"}, "transform": [{"filter": "datum.E === '4.612'"}],
         "mark": {"type": "line", "strokeWidth": 3, "interpolate": "monotone"},
         "encoding": {"x": {"field": "x", "type": "quantitative", "axis": null},
                      "y": {"field": "sum", "type": "quantitative", "axis": null},
                      "color": {"datum": "Sum", "type": "nominal", "scale": {"domain": ["Data", "Sum", "Signal", "qq̄-bkg"], "range": ["#000000", "#000000", "#ff0000", "#0000ff"]},
                                "legend": {"title": "√s = 4.612 GeV", "encode": {"title": {"update": {"dx": {"value": 16}}}, "symbols": {"update": {"shape": {"signal": "datum.value === 'Data' ? 'M-1,0H1M0,-0.52V0.52' : 'stroke'"}, "strokeDash": {"signal": "datum.value !== 'Data' && datum.value !== 'Sum' ? [20, 6] : [1, 0]"}}}}}}}},
        {"data": {"name": "fit"}, "transform": [{"filter": "datum.E === '4.612'"}],
         "mark": {"type": "line", "strokeWidth": 3, "strokeDash": [18, 6], "interpolate": "monotone"},
         "encoding": {"x": {"field": "x", "type": "quantitative", "axis": null},
                      "y": {"field": "sig", "type": "quantitative", "axis": null},
                      "color": {"datum": "Signal", "type": "nominal"}}},
        {"data": {"name": "fit"}, "transform": [{"filter": "datum.E === '4.612'"}],
         "mark": {"type": "line", "strokeWidth": 3, "strokeDash": [18, 6], "interpolate": "monotone"},
         "encoding": {"x": {"field": "x", "type": "quantitative", "axis": null},
                      "y": {"field": "bkg", "type": "quantitative", "axis": null},
                      "color": {"datum": "qq̄-bkg", "type": "nominal"}}}
      ]
    },
    {
      "width": 502, "height": 370,
      "resolve": {"axis": {"x": "independent", "y": "independent"}},
      "layer": [
        {"data": {"name": "bins"}, "transform": [{"filter": "datum.E === '4.620'"}],
         "mark": {"type": "rule", "color": "#000000", "strokeWidth": 3.5},
         "encoding": {
           "x": {"field": "x", "type": "quantitative", "scale": {"domain": [2.26, 2.305], "nice": false, "zero": false},
                 "axis": {"orient": "bottom", "title": "Mʙᴄ  (GeV/c²)", "values": [2.26, 2.27, 2.28, 2.29, 2.3], "format": ".3~f", "tickSize": -16}},
           "y": {"field": "lo", "type": "quantitative", "scale": {"domain": [0, 26.8], "nice": false},
                 "axis": {"orient": "left", "title": "Events/( 1.8 MeV/c²)", "values": [0, 10, 20], "format": "d", "tickSize": -16}},
           "y2": {"field": "hi"}
         }},
        {"data": {"name": "bins"}, "transform": [{"filter": "datum.E === '4.620'"}],
         "mark": {"type": "rule", "color": "#000000", "strokeWidth": 3.5},
         "encoding": {
           "x": {"field": "xlo", "type": "quantitative",
                 "axis": {"orient": "bottom", "title": null, "labels": false, "tickSize": -8, "values": [2.262,2.264,2.266,2.268,2.272,2.274,2.276,2.278,2.282,2.284,2.286,2.288,2.292,2.294,2.296,2.298,2.302,2.304]}},
           "x2": {"field": "xhi"},
           "y": {"field": "n", "type": "quantitative",
                 "axis": {"orient": "left", "title": null, "labels": false, "tickSize": -8, "values": [2,4,6,8,12,14,16,18,22,24,26]}}
         }},
        {"data": {"name": "fit"}, "transform": [{"filter": "datum.E === '4.620'"}],
         "mark": {"type": "line", "strokeWidth": 3, "interpolate": "monotone"},
         "encoding": {"x": {"field": "x", "type": "quantitative", "axis": null},
                      "y": {"field": "sum", "type": "quantitative", "axis": null},
                      "color": {"datum": "Sum", "type": "nominal", "scale": {"domain": ["Data", "Sum", "Signal", "qq̄-bkg"], "range": ["#000000", "#000000", "#ff0000", "#0000ff"]},
                                "legend": {"title": "√s = 4.620 GeV", "encode": {"title": {"update": {"dx": {"value": 16}}}, "symbols": {"update": {"shape": {"signal": "datum.value === 'Data' ? 'M-1,0H1M0,-0.52V0.52' : 'stroke'"}, "strokeDash": {"signal": "datum.value !== 'Data' && datum.value !== 'Sum' ? [20, 6] : [1, 0]"}}}}}}}},
        {"data": {"name": "fit"}, "transform": [{"filter": "datum.E === '4.620'"}],
         "mark": {"type": "line", "strokeWidth": 3, "strokeDash": [18, 6], "interpolate": "monotone"},
         "encoding": {"x": {"field": "x", "type": "quantitative", "axis": null},
                      "y": {"field": "sig", "type": "quantitative", "axis": null},
                      "color": {"datum": "Signal", "type": "nominal"}}},
        {"data": {"name": "fit"}, "transform": [{"filter": "datum.E === '4.620'"}],
         "mark": {"type": "line", "strokeWidth": 3, "strokeDash": [18, 6], "interpolate": "monotone"},
         "encoding": {"x": {"field": "x", "type": "quantitative", "axis": null},
                      "y": {"field": "bkg", "type": "quantitative", "axis": null},
                      "color": {"datum": "qq̄-bkg", "type": "nominal"}}}
      ]
    },
    {
      "width": 502, "height": 370,
      "resolve": {"axis": {"x": "independent", "y": "independent"}},
      "layer": [
        {"data": {"name": "bins"}, "transform": [{"filter": "datum.E === '4.640'"}],
         "mark": {"type": "rule", "color": "#000000", "strokeWidth": 3.5},
         "encoding": {
           "x": {"field": "x", "type": "quantitative", "scale": {"domain": [2.26, 2.305], "nice": false, "zero": false},
                 "axis": {"orient": "bottom", "title": "Mʙᴄ  (GeV/c²)", "values": [2.26, 2.27, 2.28, 2.29, 2.3], "format": ".3~f", "tickSize": -16}},
           "y": {"field": "lo", "type": "quantitative", "scale": {"domain": [0, 25.6], "nice": false},
                 "axis": {"orient": "left", "title": "Events/( 1.8 MeV/c²)", "values": [0, 10, 20], "format": "d", "tickSize": -16}},
           "y2": {"field": "hi"}
         }},
        {"data": {"name": "bins"}, "transform": [{"filter": "datum.E === '4.640'"}],
         "mark": {"type": "rule", "color": "#000000", "strokeWidth": 3.5},
         "encoding": {
           "x": {"field": "xlo", "type": "quantitative",
                 "axis": {"orient": "bottom", "title": null, "labels": false, "tickSize": -8, "values": [2.262,2.264,2.266,2.268,2.272,2.274,2.276,2.278,2.282,2.284,2.286,2.288,2.292,2.294,2.296,2.298,2.302,2.304]}},
           "x2": {"field": "xhi"},
           "y": {"field": "n", "type": "quantitative",
                 "axis": {"orient": "left", "title": null, "labels": false, "tickSize": -8, "values": [2,4,6,8,12,14,16,18,22,24]}}
         }},
        {"data": {"name": "fit"}, "transform": [{"filter": "datum.E === '4.640'"}],
         "mark": {"type": "line", "strokeWidth": 3, "interpolate": "monotone"},
         "encoding": {"x": {"field": "x", "type": "quantitative", "axis": null},
                      "y": {"field": "sum", "type": "quantitative", "axis": null},
                      "color": {"datum": "Sum", "type": "nominal", "scale": {"domain": ["Data", "Sum", "Signal", "qq̄-bkg"], "range": ["#000000", "#000000", "#ff0000", "#0000ff"]},
                                "legend": {"title": "√s = 4.640 GeV", "encode": {"title": {"update": {"dx": {"value": 16}}}, "symbols": {"update": {"shape": {"signal": "datum.value === 'Data' ? 'M-1,0H1M0,-0.52V0.52' : 'stroke'"}, "strokeDash": {"signal": "datum.value !== 'Data' && datum.value !== 'Sum' ? [20, 6] : [1, 0]"}}}}}}}},
        {"data": {"name": "fit"}, "transform": [{"filter": "datum.E === '4.640'"}],
         "mark": {"type": "line", "strokeWidth": 3, "strokeDash": [18, 6], "interpolate": "monotone"},
         "encoding": {"x": {"field": "x", "type": "quantitative", "axis": null},
                      "y": {"field": "sig", "type": "quantitative", "axis": null},
                      "color": {"datum": "Signal", "type": "nominal"}}},
        {"data": {"name": "fit"}, "transform": [{"filter": "datum.E === '4.640'"}],
         "mark": {"type": "line", "strokeWidth": 3, "strokeDash": [18, 6], "interpolate": "monotone"},
         "encoding": {"x": {"field": "x", "type": "quantitative", "axis": null},
                      "y": {"field": "bkg", "type": "quantitative", "axis": null},
                      "color": {"datum": "qq̄-bkg", "type": "nominal"}}}
      ]
    },
    {
      "width": 502, "height": 367,
      "resolve": {"axis": {"x": "independent", "y": "independent"}},
      "layer": [
        {"data": {"name": "bins"}, "transform": [{"filter": "datum.E === '4.660'"}],
         "mark": {"type": "rule", "color": "#000000", "strokeWidth": 3.5},
         "encoding": {
           "x": {"field": "x", "type": "quantitative", "scale": {"domain": [2.26, 2.305], "nice": false, "zero": false},
                 "axis": {"orient": "bottom", "title": "Mʙᴄ  (GeV/c²)", "values": [2.26, 2.27, 2.28, 2.29, 2.3], "format": ".3~f", "tickSize": -16}},
           "y": {"field": "lo", "type": "quantitative", "scale": {"domain": [0, 12.45], "nice": false},
                 "axis": {"orient": "left", "title": "Events/( 1.8 MeV/c²)", "values": [0, 5, 10], "format": "d", "tickSize": -16}},
           "y2": {"field": "hi"}
         }},
        {"data": {"name": "bins"}, "transform": [{"filter": "datum.E === '4.660'"}],
         "mark": {"type": "rule", "color": "#000000", "strokeWidth": 3.5},
         "encoding": {
           "x": {"field": "xlo", "type": "quantitative",
                 "axis": {"orient": "bottom", "title": null, "labels": false, "tickSize": -8, "values": [2.262,2.264,2.266,2.268,2.272,2.274,2.276,2.278,2.282,2.284,2.286,2.288,2.292,2.294,2.296,2.298,2.302,2.304]}},
           "x2": {"field": "xhi"},
           "y": {"field": "n", "type": "quantitative",
                 "axis": {"orient": "left", "title": null, "labels": false, "tickSize": -8, "values": [1,2,3,4,6,7,8,9,11,12]}}
         }},
        {"data": {"name": "fit"}, "transform": [{"filter": "datum.E === '4.660'"}],
         "mark": {"type": "line", "strokeWidth": 3, "interpolate": "monotone"},
         "encoding": {"x": {"field": "x", "type": "quantitative", "axis": null},
                      "y": {"field": "sum", "type": "quantitative", "axis": null},
                      "color": {"datum": "Sum", "type": "nominal", "scale": {"domain": ["Data", "Sum", "Signal", "qq̄-bkg"], "range": ["#000000", "#000000", "#ff0000", "#0000ff"]},
                                "legend": {"title": "√s = 4.660 GeV", "encode": {"title": {"update": {"dx": {"value": 16}}}, "symbols": {"update": {"shape": {"signal": "datum.value === 'Data' ? 'M-1,0H1M0,-0.52V0.52' : 'stroke'"}, "strokeDash": {"signal": "datum.value !== 'Data' && datum.value !== 'Sum' ? [20, 6] : [1, 0]"}}}}}}}},
        {"data": {"name": "fit"}, "transform": [{"filter": "datum.E === '4.660'"}],
         "mark": {"type": "line", "strokeWidth": 3, "strokeDash": [18, 6], "interpolate": "monotone"},
         "encoding": {"x": {"field": "x", "type": "quantitative", "axis": null},
                      "y": {"field": "sig", "type": "quantitative", "axis": null},
                      "color": {"datum": "Signal", "type": "nominal"}}},
        {"data": {"name": "fit"}, "transform": [{"filter": "datum.E === '4.660'"}],
         "mark": {"type": "line", "strokeWidth": 3, "strokeDash": [18, 6], "interpolate": "monotone"},
         "encoding": {"x": {"field": "x", "type": "quantitative", "axis": null},
                      "y": {"field": "bkg", "type": "quantitative", "axis": null},
                      "color": {"datum": "qq̄-bkg", "type": "nominal"}}}
      ]
    },
    {
      "width": 502, "height": 367,
      "resolve": {"axis": {"x": "independent", "y": "independent"}},
      "layer": [
        {"data": {"name": "bins"}, "transform": [{"filter": "datum.E === '4.680'"}],
         "mark": {"type": "rule", "color": "#000000", "strokeWidth": 3.5},
         "encoding": {
           "x": {"field": "x", "type": "quantitative", "scale": {"domain": [2.26, 2.305], "nice": false, "zero": false},
                 "axis": {"orient": "bottom", "title": "Mʙᴄ  (GeV/c²)", "values": [2.26, 2.27, 2.28, 2.29, 2.3], "format": ".3~f", "tickSize": -16}},
           "y": {"field": "lo", "type": "quantitative", "scale": {"domain": [0, 52.2], "nice": false},
                 "axis": {"orient": "left", "title": "Events/( 1.8 MeV/c²)", "values": [0, 20, 40], "format": "d", "tickSize": -16}},
           "y2": {"field": "hi"}
         }},
        {"data": {"name": "bins"}, "transform": [{"filter": "datum.E === '4.680'"}],
         "mark": {"type": "rule", "color": "#000000", "strokeWidth": 3.5},
         "encoding": {
           "x": {"field": "xlo", "type": "quantitative",
                 "axis": {"orient": "bottom", "title": null, "labels": false, "tickSize": -8, "values": [2.262,2.264,2.266,2.268,2.272,2.274,2.276,2.278,2.282,2.284,2.286,2.288,2.292,2.294,2.296,2.298,2.302,2.304]}},
           "x2": {"field": "xhi"},
           "y": {"field": "n", "type": "quantitative",
                 "axis": {"orient": "left", "title": null, "labels": false, "tickSize": -8, "values": [5,10,15,25,30,35,45,50]}}
         }},
        {"data": {"name": "fit"}, "transform": [{"filter": "datum.E === '4.680'"}],
         "mark": {"type": "line", "strokeWidth": 3, "interpolate": "monotone"},
         "encoding": {"x": {"field": "x", "type": "quantitative", "axis": null},
                      "y": {"field": "sum", "type": "quantitative", "axis": null},
                      "color": {"datum": "Sum", "type": "nominal", "scale": {"domain": ["Data", "Sum", "Signal", "qq̄-bkg"], "range": ["#000000", "#000000", "#ff0000", "#0000ff"]},
                                "legend": {"title": "√s = 4.680 GeV", "encode": {"title": {"update": {"dx": {"value": 16}}}, "symbols": {"update": {"shape": {"signal": "datum.value === 'Data' ? 'M-1,0H1M0,-0.52V0.52' : 'stroke'"}, "strokeDash": {"signal": "datum.value !== 'Data' && datum.value !== 'Sum' ? [20, 6] : [1, 0]"}}}}}}}},
        {"data": {"name": "fit"}, "transform": [{"filter": "datum.E === '4.680'"}],
         "mark": {"type": "line", "strokeWidth": 3, "strokeDash": [18, 6], "interpolate": "monotone"},
         "encoding": {"x": {"field": "x", "type": "quantitative", "axis": null},
                      "y": {"field": "sig", "type": "quantitative", "axis": null},
                      "color": {"datum": "Signal", "type": "nominal"}}},
        {"data": {"name": "fit"}, "transform": [{"filter": "datum.E === '4.680'"}],
         "mark": {"type": "line", "strokeWidth": 3, "strokeDash": [18, 6], "interpolate": "monotone"},
         "encoding": {"x": {"field": "x", "type": "quantitative", "axis": null},
                      "y": {"field": "bkg", "type": "quantitative", "axis": null},
                      "color": {"datum": "qq̄-bkg", "type": "nominal"}}}
      ]
    },
    {
      "width": 502, "height": 367,
      "resolve": {"axis": {"x": "independent", "y": "independent"}},
      "layer": [
        {"data": {"name": "bins"}, "transform": [{"filter": "datum.E === '4.700'"}],
         "mark": {"type": "rule", "color": "#000000", "strokeWidth": 3.5},
         "encoding": {
           "x": {"field": "x", "type": "quantitative", "scale": {"domain": [2.26, 2.305], "nice": false, "zero": false},
                 "axis": {"orient": "bottom", "title": "Mʙᴄ  (GeV/c²)", "values": [2.26, 2.27, 2.28, 2.29, 2.3], "format": ".3~f", "tickSize": -16}},
           "y": {"field": "lo", "type": "quantitative", "scale": {"domain": [0, 17.8], "nice": false},
                 "axis": {"orient": "left", "title": "Events/( 1.8 MeV/c²)", "values": [0, 5, 10, 15], "format": "d", "tickSize": -16}},
           "y2": {"field": "hi"}
         }},
        {"data": {"name": "bins"}, "transform": [{"filter": "datum.E === '4.700'"}],
         "mark": {"type": "rule", "color": "#000000", "strokeWidth": 3.5},
         "encoding": {
           "x": {"field": "xlo", "type": "quantitative",
                 "axis": {"orient": "bottom", "title": null, "labels": false, "tickSize": -8, "values": [2.262,2.264,2.266,2.268,2.272,2.274,2.276,2.278,2.282,2.284,2.286,2.288,2.292,2.294,2.296,2.298,2.302,2.304]}},
           "x2": {"field": "xhi"},
           "y": {"field": "n", "type": "quantitative",
                 "axis": {"orient": "left", "title": null, "labels": false, "tickSize": -8, "values": [1,2,3,4,6,7,8,9,11,12,13,14,16,17]}}
         }},
        {"data": {"name": "fit"}, "transform": [{"filter": "datum.E === '4.700'"}],
         "mark": {"type": "line", "strokeWidth": 3, "interpolate": "monotone"},
         "encoding": {"x": {"field": "x", "type": "quantitative", "axis": null},
                      "y": {"field": "sum", "type": "quantitative", "axis": null},
                      "color": {"datum": "Sum", "type": "nominal", "scale": {"domain": ["Data", "Sum", "Signal", "qq̄-bkg"], "range": ["#000000", "#000000", "#ff0000", "#0000ff"]},
                                "legend": {"title": "√s = 4.700 GeV", "encode": {"title": {"update": {"dx": {"value": 16}}}, "symbols": {"update": {"shape": {"signal": "datum.value === 'Data' ? 'M-1,0H1M0,-0.52V0.52' : 'stroke'"}, "strokeDash": {"signal": "datum.value !== 'Data' && datum.value !== 'Sum' ? [20, 6] : [1, 0]"}}}}}}}},
        {"data": {"name": "fit"}, "transform": [{"filter": "datum.E === '4.700'"}],
         "mark": {"type": "line", "strokeWidth": 3, "strokeDash": [18, 6], "interpolate": "monotone"},
         "encoding": {"x": {"field": "x", "type": "quantitative", "axis": null},
                      "y": {"field": "sig", "type": "quantitative", "axis": null},
                      "color": {"datum": "Signal", "type": "nominal"}}},
        {"data": {"name": "fit"}, "transform": [{"filter": "datum.E === '4.700'"}],
         "mark": {"type": "line", "strokeWidth": 3, "strokeDash": [18, 6], "interpolate": "monotone"},
         "encoding": {"x": {"field": "x", "type": "quantitative", "axis": null},
                      "y": {"field": "bkg", "type": "quantitative", "axis": null},
                      "color": {"datum": "qq̄-bkg", "type": "nominal"}}}
      ]
    }
  ],
  "config": {
    "font": "Liberation Serif",
    "view": {"stroke": "#000000", "strokeWidth": 1.5},
    "axis": {"grid": false, "domain": false, "tickColor": "#000000", "tickWidth": 1.5,
             "labelFont": "Liberation Serif", "labelFontSize": 24, "labelColor": "#000000",
             "titleFont": "Liberation Serif", "titleFontSize": 29, "titleFontWeight": "normal", "titleColor": "#000000",
             "labelOverlap": false, "labelFlush": false, "minExtent": 0},
    "axisX": {"labelPadding": 26, "titlePadding": 3, "titleFontSize": 31},
    "axisY": {"labelPadding": 26, "titlePadding": 14},
    "legend": {"orient": "none", "legendX": 20, "legendY": -3, "padding": 0,
               "titleFont": "Liberation Serif", "titleFontSize": 23, "titleFontWeight": "normal", "titleColor": "#000000",
               "labelFont": "Liberation Serif", "labelFontSize": 24, "labelColor": "#000000",
               "symbolSize": 1936, "symbolStrokeWidth": 3.5, "labelOffset": 6, "rowPadding": -4.5, "titlePadding": -5,
               "titleLimit": 0, "labelLimit": 0}
  }
}
